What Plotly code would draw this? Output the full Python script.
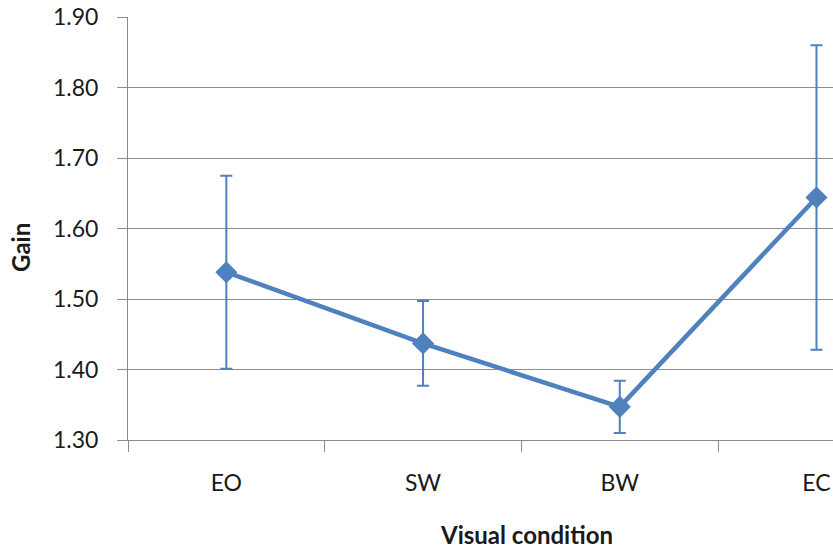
import plotly.graph_objects as go

# Mean gain per visual condition with symmetric error bars
conditions = ["EO", "SW", "BW", "EC"]
gain_mean = [1.538, 1.437, 1.347, 1.644]
gain_err = [0.137, 0.060, 0.037, 0.216]

y_ticks = [1.30, 1.40, 1.50, 1.60, 1.70, 1.80, 1.90]

blue = "#4F81BD"
grey = "#8C8C8C"
font_family = "Lato, 'Open Sans', sans-serif"

fig = go.Figure()
fig.add_trace(go.Scatter(
    x=conditions,
    y=gain_mean,
    mode="lines+markers",
    line=dict(color=blue, width=4.5),
    marker=dict(symbol="diamond", size=17, color=blue),
    error_y=dict(type="data", array=gain_err, visible=True,
                 color=blue, thickness=2, width=6),
    showlegend=False,
))

fig.update_layout(
    width=833,
    height=550,
    margin=dict(l=128, r=0, t=17, b=110),
    paper_bgcolor="white",
    plot_bgcolor="white",
    font=dict(family=font_family, size=23, color="#1a1a1a"),
    xaxis=dict(
        type="category",
        categoryorder="array",
        categoryarray=conditions,
        range=[-0.5, 3.084],
        showgrid=False,
        showline=True,
        linecolor=grey,
        linewidth=1,
        ticks="outside",
        tickson="boundaries",
        ticklen=11,
        tickcolor=grey,
        ticklabelstandoff=22,
        tickfont=dict(size=23),
        zeroline=False,
    ),
    yaxis=dict(
        range=[1.30, 1.90],
        tickvals=y_ticks,
        ticktext=[f"{v:.2f}" for v in y_ticks],
        showgrid=True,
        gridcolor=grey,
        gridwidth=1,
        showline=True,
        linecolor=grey,
        linewidth=1,
        ticks="outside",
        ticklen=10,
        tickcolor=grey,
        ticklabelstandoff=14,
        tickfont=dict(size=23),
        zeroline=False,
    ),
    annotations=[
        dict(text="<b>Visual condition</b>", xref="paper", yref="paper",
             x=(526 - 128) / 705, y=-94 / 423, xanchor="center", yanchor="middle",
             showarrow=False, font=dict(size=24)),
        dict(text="<b>Gain</b>", xref="paper", yref="paper",
             x=-108 / 705, y=(440 - 248) / 423, xanchor="center", yanchor="middle",
             textangle=-90, showarrow=False, font=dict(size=24)),
    ],
)

fig.write_html("out.html")
